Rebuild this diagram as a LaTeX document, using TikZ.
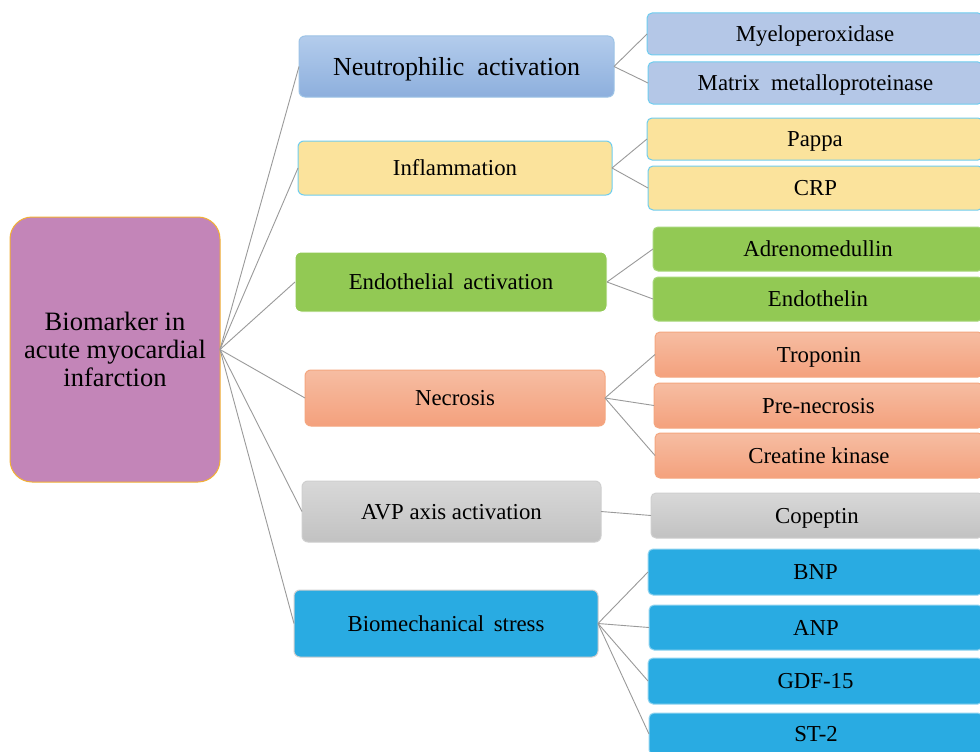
\documentclass[tikz,border=0pt]{standalone}
\usepackage{fontspec}
\setmainfont{Liberation Serif}
\definecolor{rootfill}{HTML}{C385B8}
\definecolor{rootline}{HTML}{F2B134}
\definecolor{neuTop}{HTML}{B3CCEC}
\definecolor{neuBot}{HTML}{8DAFDD}
\definecolor{neuLine}{HTML}{9DC3E6}
\definecolor{neuR}{HTML}{B4C7E7}
\definecolor{cyanLine}{HTML}{6FCDEF}
\definecolor{yel}{HTML}{FBE39C}
\definecolor{grn}{HTML}{92C954}
\definecolor{grnLine}{HTML}{A7D77A}
\definecolor{salTop}{HTML}{F6BDA2}
\definecolor{salBot}{HTML}{F4A17D}
\definecolor{salLine}{HTML}{F4A67F}
\definecolor{gryTop}{HTML}{D8D8D8}
\definecolor{gryBot}{HTML}{C2C2C2}
\definecolor{gryLine}{HTML}{CFCFCF}
\definecolor{blu}{HTML}{29ABE2}
\definecolor{bluLine}{HTML}{8FD3F0}
\definecolor{connc}{HTML}{9A9A9A}
\tikzset{
  box/.style={inner sep=0pt, outer sep=0pt, anchor=north west, align=center,
    font=\fontsize{22.8}{25}\selectfont, line width=1pt,
    text height=15.1pt, text depth=0pt},
  midbox/.style={box, rounded corners=6pt},
  rbox/.style={box, rounded corners=5pt},
  conn/.style={draw=connc, line width=0.9pt},
  neuM/.style={midbox, draw=neuLine, top color=neuTop, bottom color=neuBot},
  neuB/.style={rbox, draw=cyanLine, fill=neuR},
  yelB/.style={draw=cyanLine, fill=yel},
  grnB/.style={draw=grnLine, fill=grn},
  salB/.style={draw=salLine, top color=salTop, bottom color=salBot},
  gryB/.style={draw=gryLine, top color=gryTop, bottom color=gryBot},
  bluB/.style={draw=bluLine, fill=blu},
}
\begin{document}
\begin{tikzpicture}[x=1pt,y=-1pt]
\clip (0,0) rectangle (980,752);
\fill[white] (0,0) rectangle (980,752);
% root
\node[inner sep=0pt, outer sep=0pt, anchor=north west, align=center,
  line width=1pt, rounded corners=22pt, draw=rootline, fill=rootfill,
  minimum width=210pt, minimum height=265pt,
  font=\fontsize{26.5}{28}\selectfont] (root) at (10,217)
  {Biomarker in\\acute myocardial\\infarction};
% middle boxes
\node[neuM, minimum width=315pt, minimum height=61pt, text height=17.2pt,
  font=\fontsize{26}{28}\selectfont] (neu) at (299,36) {Neutrophilic\ \ activation};
\node[midbox, yelB, minimum width=314pt, minimum height=54pt] (inf) at (298,141) {Inflammation};
\node[midbox, grnB, draw=white, minimum width=312pt, minimum height=60pt] (endo) at (295,252) {Endothelial\ \,activation};
\node[midbox, salB, minimum width=300pt, minimum height=56pt] (nec) at (305,370) {Necrosis};
\node[midbox, gryB, minimum width=299pt, minimum height=61pt] (avp) at (302,481) {AVP axis activation};
\node[midbox, bluB, draw=gryLine, minimum width=304pt, minimum height=67pt] (bio) at (294,590) {Biomechanical\ \,stress};
% right boxes
\node[neuB, minimum width=336pt, minimum height=42pt] (myl) at (647,13) {Myeloperoxidase};
\node[neuB, minimum width=335pt, minimum height=42pt] (mmp) at (648,62) {Matrix\ \ metalloproteinase};
\node[rbox, yelB, minimum width=336pt, minimum height=42pt] (pap) at (647,118) {Pappa};
\node[rbox, yelB, minimum width=335pt, minimum height=44pt] (crp) at (648,166) {CRP};
\node[rbox, grnB, minimum width=330pt, minimum height=44pt] (adr) at (653,227) {Adrenomedullin};
\node[rbox, grnB, minimum width=330pt, minimum height=44pt] (edn) at (653,277) {Endothelin};
\node[rbox, salB, minimum width=328pt, minimum height=45pt] (tro) at (655,332) {Troponin};
\node[rbox, salB, minimum width=329pt, minimum height=45pt] (pre) at (654,383) {Pre-necrosis};
\node[rbox, salB, minimum width=328pt, minimum height=45pt] (crk) at (655,433) {Creatine kinase};
\node[rbox, gryB, minimum width=332pt, minimum height=45pt] (cop) at (651,493) {Copeptin};
\node[rbox, bluB, minimum width=335pt, minimum height=46pt] (bnp) at (648,549) {BNP};
\node[rbox, bluB, minimum width=334pt, minimum height=45pt] (anp) at (649,605) {ANP};
\node[rbox, bluB, minimum width=335pt, minimum height=46pt] (gdf) at (648,658) {GDF-15};
\node[rbox, bluB, minimum width=334pt, minimum height=42pt] (st) at (649,713) {ST-2};
% connectors
\foreach \m in {neu,inf,endo,nec,avp,bio} \draw[conn] (root.east) -- (\m.west);
\draw[conn] (neu.east) -- (myl.west);
\draw[conn] (neu.east) -- (mmp.west);
\draw[conn] (inf.east) -- (pap.west);
\draw[conn] (inf.east) -- (crp.west);
\draw[conn] (endo.east) -- (adr.west);
\draw[conn] (endo.east) -- (edn.west);
\draw[conn] (nec.east) -- (tro.west);
\draw[conn] (nec.east) -- (pre.west);
\draw[conn] (nec.east) -- (crk.west);
\draw[conn] (avp.east) -- (cop.west);
\draw[conn] (bio.east) -- (bnp.west);
\draw[conn] (bio.east) -- (anp.west);
\draw[conn] (bio.east) -- (gdf.west);
\draw[conn] (bio.east) -- (st.west);
\end{tikzpicture}
\end{document}
